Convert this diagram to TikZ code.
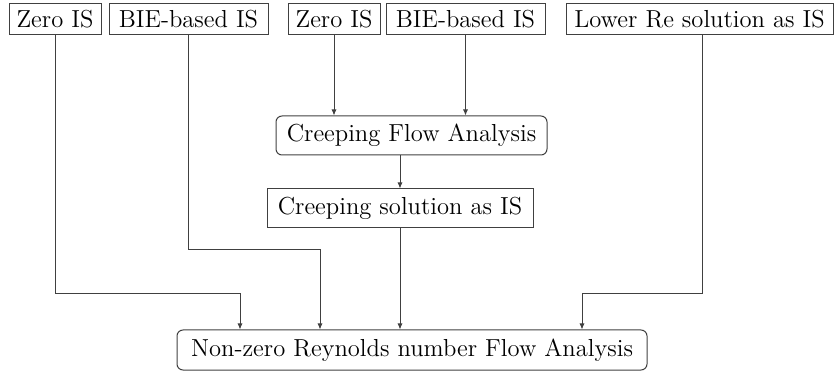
\documentclass[tikz,border=0pt]{standalone}
\usepackage{amsmath,amssymb}
\usetikzlibrary{arrows.meta}

\tikzset{
  box/.style={draw=black!75, line width=0.5pt, inner sep=0pt, align=center,
              font=\fontsize{12.3}{14}\selectfont},
  isbox/.style={box, minimum height=15.5pt},
  flowbox/.style={box, rounded corners=3pt, minimum height=19.5pt},
  arr/.style={draw=black!75, line width=0.5pt, -{Latex[length=3pt,width=2.6pt]}}
}

\begin{document}
\begin{tikzpicture}[x=0.5pt,y=-0.5pt]
\useasboundingbox (0,0) rectangle (834,373);

\node[isbox, minimum width=46pt] (zeroA) at (55,19.5) {Zero IS};
\node[isbox, minimum width=79.5pt] (bieA) at (188.5,19.5) {BIE-based IS};
\node[isbox, minimum width=46pt] (zeroB) at (334,19.5) {Zero IS};
\node[isbox, minimum width=79.5pt] (bieB) at (465.5,19.5) {BIE-based IS};
\node[isbox, minimum width=133.5pt] (lower) at (699.5,19.5) {Lower Re solution as IS};

\node[flowbox, minimum width=135.5pt] (creepFlow) at (411.5,135.5) {Creeping Flow Analysis};
\node[box, minimum width=133pt, minimum height=19.5pt] (creepSol) at (400,208.5) {Creeping solution as IS};
\node[flowbox, minimum width=235pt, minimum height=20pt] (nonzero) at (412,350) {Non-zero Reynolds number Flow Analysis};

\coordinate (bendA) at (240,294);
\coordinate (bendB) at (320,250);
\coordinate (bendC) at (582,294);

\draw[arr] (zeroB) -- (zeroB |- creepFlow.north);
\draw[arr] (bieB) -- (bieB |- creepFlow.north);
\draw[arr] (creepSol |- creepFlow.south) -- (creepSol.north);

\draw[arr] (zeroA) |- (bendA) -- (bendA |- nonzero.north);
\draw[arr] (bieA) |- (bendB) -- (bendB |- nonzero.north);
\draw[arr] (creepSol) -- (creepSol |- nonzero.north);
\draw[arr] (lower.south -| 702,0) |- (bendC) -- (bendC |- nonzero.north);
\end{tikzpicture}
\end{document}
